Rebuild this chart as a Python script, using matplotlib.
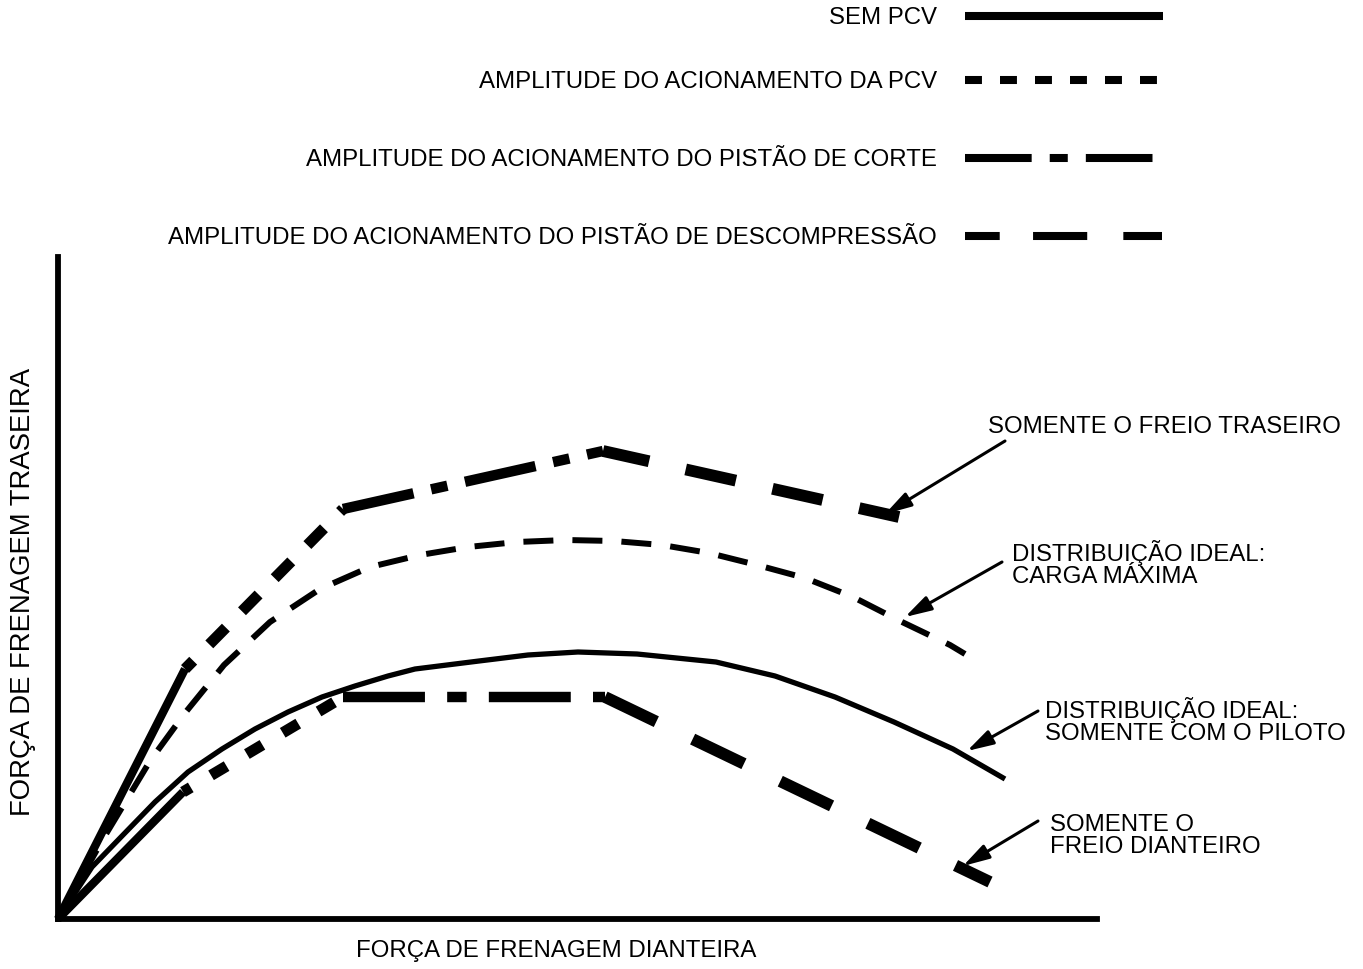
import matplotlib
matplotlib.use("Agg")
import matplotlib.pyplot as plt

plt.rcParams['font.family'] = ['Liberation Sans', 'DejaVu Sans']
plt.rcParams['lines.scale_dashes'] = False

# Curves (x = front braking force, y = rear braking force, arbitrary units)
# segment 0: sem PCV, 1: PCV, 2: pistao de corte, 3: pistao de descompressao
rear_x = [0, 12.7, 28.5, 54.5, 84.1]
rear_y = [0, 25.0, 41.0, 46.8, 40.2]

front_x = [0, 12.5, 28.5, 54.7, 93.2]
front_y = [0, 12.7, 22.2, 22.2, 3.7]

maxload_x = [0, 4.5, 9.2, 12.7, 16.6, 21.2, 26.2, 31.2, 36.2, 41.0, 45.9, 50.8,
             55.6, 60.4, 65.1, 69.9, 74.7, 79.5, 84.2, 89.2, 90.7]
maxload_y = [0, 8.0, 15.8, 20.6, 25.4, 29.7, 33.0, 35.2, 36.4, 37.2, 37.7, 37.9,
             37.8, 37.4, 36.6, 35.4, 34.1, 32.2, 29.8, 27.4, 26.5]

pilot_x = [0, 3.4, 6.4, 9.7, 13.0, 16.4, 19.7, 23.0, 26.4, 29.7, 33.0, 35.7,
           42.1, 47.0, 52.0, 57.9, 65.8, 71.7, 77.7, 83.6, 89.5, 94.7]
pilot_y = [0, 5.2, 8.3, 11.7, 14.7, 17.0, 19.0, 20.7, 22.2, 23.3, 24.3, 25.0,
           25.8, 26.4, 26.7, 26.5, 25.7, 24.3, 22.2, 19.7, 17.0, 14.0]

legend_labels = ['SEM PCV',
                 'AMPLITUDE DO ACIONAMENTO DA PCV',
                 'AMPLITUDE DO ACIONAMENTO DO PISTÃO DE CORTE',
                 'AMPLITUDE DO ACIONAMENTO DO PISTÃO DE DESCOMPRESSÃO']

notes = ['SOMENTE O FREIO TRASEIRO',
         'DISTRIBUIÇÃO IDEAL:\nCARGA MÁXIMA',
         'DISTRIBUIÇÃO IDEAL:\nSOMENTE COM O PILOTO',
         'SOMENTE O\nFREIO DIANTEIRO']

FS = 17.25

fig = plt.figure(figsize=(13.63, 9.70), dpi=100)
ax = fig.add_axes([58 / 1363, 50 / 970, 1039 / 1363, 662 / 970])
ax.set_xlim(0, 103.9)
ax.set_ylim(0, 66.2)
for s in ['top', 'right']:
    ax.spines[s].set_visible(False)
for s in ['left', 'bottom']:
    ax.spines[s].set_linewidth(4.2)
ax.set_xticks([])
ax.set_yticks([])

# segment styles for rear and front curves
rear_styles = ['-', (8.6, (17, 16.5)), (0, (52, 13, 12, 13)), (3, (37, 27))]
front_styles = ['-', (6.5, (13, 17)), (0, (59, 16, 14, 16)), (0, (41, 29))]
seg_lw = [6, 8, 7.5, 8.5]

for xs, ys, styles in [(rear_x, rear_y, rear_styles), (front_x, front_y, front_styles)]:
    for i in range(4):
        ax.plot(xs[i:i + 2], ys[i:i + 2], color='black', lw=seg_lw[i], ls=styles[i],
                solid_capstyle='butt', dash_capstyle='butt', clip_on=False)

ax.plot(maxload_x, maxload_y, color='black', lw=4.3, ls=(0, (21.6, 13.7)),
        dash_capstyle='butt', dash_joinstyle='round', clip_on=False)
ax.plot(pilot_x, pilot_y, color='black', lw=3.8, solid_capstyle='butt',
        solid_joinstyle='round', clip_on=False)

# annotation arrows (tail -> head) and label positions
arrows = [((94.7, 47.8), (82.7, 40.5)),
          ((94.4, 35.7), (84.7, 30.2)),
          ((98.0, 20.8), (90.9, 16.8)),
          ((98.0, 9.8), (90.5, 5.3))]
note_pos = [(93.0, 49.3), (95.4, 35.6), (98.7, 19.9), (99.2, 8.4)]

for (tail, head), (tx, ty), txt in zip(arrows, note_pos, notes):
    ax.annotate('', xy=head, xytext=tail, annotation_clip=False,
                arrowprops=dict(arrowstyle='-|>,head_length=0.8,head_width=0.23',
                                mutation_scale=20, lw=2.2, color='black',
                                shrinkA=0, shrinkB=0))
    ax.text(tx, ty, txt, fontsize=FS, ha='left', va='center', linespacing=0.95,
            clip_on=False)

# legend drawn on a pixel-coordinate overlay
lax = fig.add_axes([0, 0, 1, 1])
lax.set_xlim(0, 1363)
lax.set_ylim(970, 0)
lax.axis('off')
leg_y = [17, 81, 159, 237]
leg_x_end = [1163, 1160, 1157, 1162]
leg_styles = ['-', (0, (12.2, 13)), (0, (48, 13, 13, 13)), (0, (25, 24, 39, 26, 28, 30))]
for lab, y, xe, ls in zip(legend_labels, leg_y, leg_x_end, leg_styles):
    lax.plot([965, xe], [y, y], color='black', lw=5.8, ls=ls,
             solid_capstyle='butt', dash_capstyle='butt')
    lax.text(937, y + 1, lab, fontsize=FS, ha='right', va='center')

fig.text(556 / 1363, 1 - 951 / 970, 'FORÇA DE FRENAGEM DIANTEIRA', fontsize=FS,
         ha='center', va='center')
fig.text(23 / 1363, 1 - 592 / 970, 'FORÇA DE FRENAGEM TRASEIRA', fontsize=19.8,
         ha='center', va='center', rotation=90)

fig.savefig('out.png', dpi=100)
